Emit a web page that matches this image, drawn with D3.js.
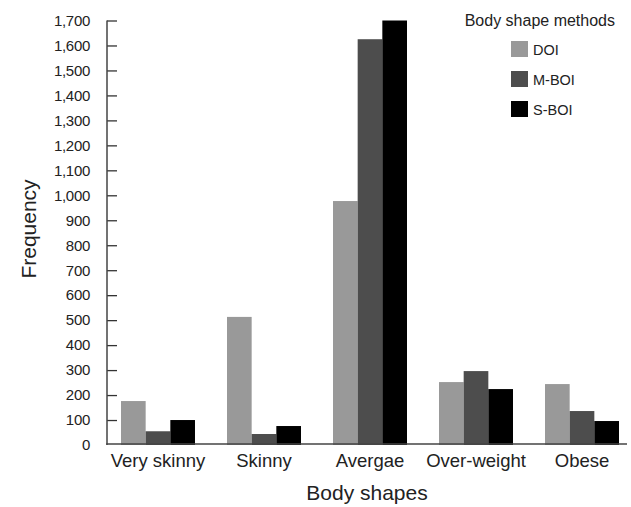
<!DOCTYPE html>
<html>
<head>
<meta charset="utf-8">
<script src="https://cdn.jsdelivr.net/npm/d3@7"></script>
<style>
  html, body { margin: 0; padding: 0; background: #fff; }
  svg { display: block; font-family: "Liberation Sans", Arial, sans-serif; }
</style>
</head>
<body>
<svg id="chart" width="631" height="507"></svg>
<script>
const categories = ["Very skinny", "Skinny", "Avergae", "Over-weight", "Obese"];
const seriesNames = ["DOI", "M-BOI", "S-BOI"];
const doiValues = [176, 513, 977, 252, 244];
const mboiValues = [55, 44, 1625, 296, 136];
const sboiValues = [100, 76, 1700, 224, 96];
const yTicks = [100, 200, 300, 400, 500, 600, 700, 800, 900, 1000, 1100, 1200, 1300, 1400, 1500, 1600, 1700];
const seriesColors = ["#999999", "#4d4d4d", "#000000"];

const seriesValues = [doiValues, mboiValues, sboiValues];
const svg = d3.select("#chart");

const axisLeftX = 107, axisRightX = 627;
const y = d3.scaleLinear().domain([0, 1700]).range([445, 20.5]);
const x = d3.scaleBand().domain(categories).range([121, 619]).paddingInner(0.302).paddingOuter(0);
const xs = d3.scaleBand().domain(seriesNames).range([0, x.bandwidth()]);

// bars
const groups = svg.append("g").selectAll("g").data(categories).join("g")
  .attr("transform", d => `translate(${x(d)},0)`);
groups.selectAll("rect")
  .data((c, i) => seriesNames.map((s, j) => ({ s, v: seriesValues[j][i], j })))
  .join("rect")
  .attr("x", d => xs(d.s))
  .attr("width", xs.bandwidth())
  .attr("y", d => y(d.v))
  .attr("height", d => y(0) - y(d.v))
  .attr("fill", d => seriesColors[d.j]);

// y axis
const yAxis = svg.append("g").attr("transform", `translate(${axisLeftX},0)`)
  .call(d3.axisRight(y).tickValues(yTicks).tickSize(10).tickFormat(""));
yAxis.select(".domain").remove();
yAxis.selectAll(".tick line").attr("stroke", "#333").attr("stroke-width", 1.3);
svg.append("line").attr("x1", axisLeftX).attr("x2", axisLeftX).attr("y1", y(1700)).attr("y2", y(0))
  .attr("stroke", "#444").attr("stroke-width", 1.5);
const yLabels = svg.append("g").attr("transform", `translate(90,0)`)
  .call(d3.axisLeft(y).tickValues([0].concat(yTicks)).tickSize(0).tickPadding(0).tickFormat(d3.format(",")));
yLabels.select(".domain").remove();
yLabels.selectAll("text").attr("font-size", 15).attr("fill", "#222")
  .attr("font-family", "'Liberation Sans', Arial, sans-serif").attr("letter-spacing", "-0.3");

// x axis
svg.append("line").attr("x1", axisLeftX - 0.75).attr("x2", axisRightX).attr("y1", y(0) - 1).attr("y2", y(0) - 1)
  .attr("stroke", "#444").attr("stroke-width", 1.5);
const xAxis = svg.append("g").attr("transform", `translate(0,${y(0)})`)
  .call(d3.axisBottom(x).tickSize(0).tickPadding(9));
xAxis.select(".domain").remove();
xAxis.selectAll("text").attr("font-size", 18.5).attr("fill", "#222")
  .attr("font-family", "'Liberation Sans', Arial, sans-serif").attr("dy", "0.71em");

// axis titles
svg.append("text").attr("x", 367).attr("y", 500).attr("text-anchor", "middle")
  .attr("font-size", 21).attr("fill", "#222").text("Body shapes");
svg.append("text").attr("transform", "translate(36,229) rotate(-90)").attr("text-anchor", "middle")
  .attr("font-size", 21).attr("fill", "#222").text("Frequency");

// legend
const legend = svg.append("g");
legend.append("text").attr("x", 615).attr("y", 26).attr("text-anchor", "end")
  .attr("font-size", 16).attr("fill", "#222").text("Body shape methods");
const li = legend.selectAll("g.li").data(seriesNames).join("g").attr("class", "li")
  .attr("transform", (d, i) => `translate(511,${41 + i * 30})`);
li.append("rect").attr("width", 17).attr("height", 16).attr("fill", (d, i) => seriesColors[i]);
li.append("text").attr("x", 22).attr("y", 13.5).attr("font-size", 14.5).attr("fill", "#222").text(d => d);
</script>
</body>
</html>
